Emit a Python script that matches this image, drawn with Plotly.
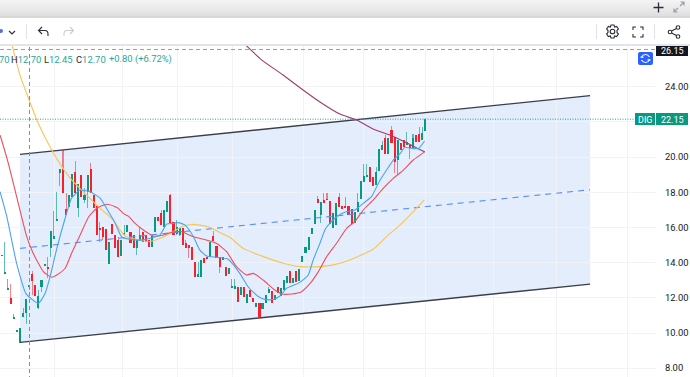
import base64
import plotly.graph_objects as go

W, H = 690, 377
PLOT_R, PLOT_T = 656, 46
X0_PX, BAR_PX = 20, 3.07

first_bar = -6
opens = [14.38,13.40,12.50,12.01,10.85,10.10,
 9.45,10.93,11.16,12.65,13.34,12.73,11.41,12.60,13.85,13.72,
 14.81,15.35,16.39,19.11,19.30,17.03,17.18,17.71,19.17,17.09,
 18.98,17.56,18.03,19.30,17.84,17.22,15.95,16.01,15.89,13.95,
 16.20,15.57,15.28,14.37,15.60,15.75,15.75,15.57,14.81,15.22,
 15.75,15.57,15.28,14.90,15.75,16.57,16.80,16.04,16.89,17.84,
 16.32,15.60,15.57,15.94,15.13,15.00,14.86,14.05,13.16,13.20,
 14.24,14.33,14.33,15.51,14.96,14.33,14.14,13.73,13.33,12.60,
 12.54,12.60,12.16,12.63,11.69,12.44,11.97,11.50,11.69,11.37,
 11.69,12.25,12.39,11.88,12.60,12.10,12.44,12.82,13.54,12.86,
 13.54,12.96,14.02,14.57,14.72,15.63,16.20,17.60,16.71,17.56,
 17.60,17.52,15.95,16.14,17.75,17.22,17.20,17.22,17.03,16.27,
 16.90,17.60,18.60,18.92,19.42,18.88,18.41,19.22,20.40,21.06,
 20.20,21.54,21.16,19.83,20.78,20.97,20.68,20.68,20.50,21.25,
 21.29,20.97,21.50]
highs = [14.45,15.16,13.05,12.77,11.08,10.16,
 10.27,11.40,11.92,12.70,13.55,12.73,12.45,13.02,13.92,14.34,
 15.80,16.95,18.03,19.30,20.40,17.98,17.84,19.04,19.80,18.47,
 18.98,18.22,18.98,19.68,17.84,17.22,16.33,16.01,15.89,15.19,
 16.20,15.57,15.45,15.28,16.13,16.13,15.75,15.57,15.28,16.00,
 15.75,15.57,15.28,15.51,16.57,16.57,17.00,16.99,17.52,17.89,
 16.32,16.42,15.94,15.94,15.28,15.00,14.86,14.05,14.05,14.14,
 14.24,14.33,15.15,15.81,14.96,14.33,14.30,13.73,13.67,13.05,
 13.05,12.60,12.60,12.63,12.22,12.44,11.97,11.69,11.69,11.69,
 12.16,12.60,12.39,12.16,12.60,12.54,13.01,13.24,13.54,13.15,
 13.54,13.62,14.38,14.91,15.47,15.95,16.99,17.79,17.46,17.94,
 17.94,17.52,16.80,17.41,17.94,17.22,17.75,17.22,17.03,16.90,
 17.94,18.66,19.60,19.60,19.42,18.88,19.45,20.46,20.90,21.25,
 21.06,21.75,21.16,20.97,20.78,20.97,21.44,20.68,21.30,21.25,
 21.69,21.70,22.20]
lows = [14.35,13.39,12.45,11.65,10.82,10.08,
 9.42,10.93,10.52,12.45,12.16,12.08,11.35,12.35,13.83,13.11,
 14.34,15.33,16.39,18.36,17.94,16.71,17.18,17.71,17.98,16.58,
 17.75,17.41,17.09,17.98,17.09,15.57,15.19,15.29,14.72,13.92,
 15.60,14.81,14.30,14.37,15.57,15.75,15.09,14.81,14.43,15.22,
 15.19,15.19,14.86,14.90,15.75,16.38,16.13,16.04,16.89,16.23,
 15.57,15.55,15.50,15.00,14.81,14.24,14.14,13.20,13.16,13.20,
 13.96,14.18,14.33,15.24,14.24,13.43,14.14,13.24,13.33,12.60,
 12.54,11.78,12.16,12.03,11.69,12.03,11.78,11.50,10.93,11.37,
 11.69,12.25,11.69,11.88,12.25,12.10,12.44,12.82,12.82,12.86,
 12.88,12.96,14.02,14.57,14.72,15.63,16.20,17.41,16.23,17.41,
 17.56,16.20,15.95,16.14,17.14,17.03,17.14,16.71,16.20,16.27,
 16.90,17.60,18.60,18.92,18.60,18.35,18.41,19.22,20.40,20.20,
 20.20,20.78,19.07,18.98,20.40,20.59,20.68,19.87,20.50,20.87,
 20.87,20.97,21.50]
closes = [14.42,13.46,12.55,11.65,10.90,10.14,
 10.27,11.16,11.92,12.70,12.96,12.11,12.13,13.02,13.90,13.68,
 15.80,15.50,16.50,19.30,17.94,16.71,17.84,19.04,17.98,18.47,
 17.75,17.84,18.98,17.98,17.09,15.57,15.90,15.48,14.72,15.19,
 15.60,14.81,14.30,15.28,15.70,16.13,15.09,14.81,15.28,15.57,
 15.19,15.19,14.86,15.51,16.57,16.38,16.13,16.99,17.52,16.23,
 15.57,16.04,15.94,15.00,14.81,14.81,14.14,13.20,13.33,14.14,
 14.00,14.18,15.15,15.24,14.24,13.73,14.30,13.24,13.67,12.70,
 12.65,11.78,12.60,12.03,12.22,12.03,11.78,11.69,10.93,11.69,
 12.16,12.48,11.69,12.16,12.25,12.54,13.01,13.24,12.82,13.15,
 12.88,13.62,14.38,14.91,15.47,15.95,16.99,17.41,17.46,17.41,
 17.56,16.20,16.80,17.41,17.14,17.03,17.14,16.71,16.20,16.90,
 17.46,18.66,18.92,19.00,18.60,18.35,19.17,20.46,20.68,20.20,
 21.06,20.78,19.74,20.97,20.40,20.59,20.87,20.50,21.06,20.87,
 20.87,21.35,22.15]

blue_bars = [-6.5,-4.3,-1.1,2,6,8.2,9.8,12,14.7,16.8,19.6,22.8,26.1,28.8,31,33.1,35.8,39.1,43.4,45.6,47.8,50,51.6,53.8,56.5,58.6,60.8,64.1,67.8,71.6,74.3,77.6,79.8,82.5,84.7,86.8,90.6,91.7,93.9,95.5,97.7,99.6,103.1,106.4,109.1,111.8,114.5,117.3,119.4,121.6,123.8,125.4,127.6,129.8,131.8]
blue_vals = [18.03,16.61,13.96,12.22,11.69,12.26,13.2,14.81,16.52,17.66,18.13,18.03,17.66,16.9,16.24,15.47,15.32,15.28,15.43,15.57,16.19,16.23,16.27,16.13,15.47,14.71,14.37,14.3,14.19,13.39,12.63,12.07,11.91,11.91,12.1,12.54,12.82,12.95,13.30,14.15,15.1,15.95,16.61,16.9,16.99,17.37,17.75,18.7,19.26,19.83,20.2,20.55,20.49,20.49,20.91]
red_bars = [-6.5,-6,-3.8,-1.1,2.2,4.3,7.6,10.3,12,14.7,16.8,19.6,22.3,25,28.3,31,32,33.6,35.3,37.5,40.2,43.4,46.7,50,52.7,56.5,60.8,64.1,67.3,70.5,73.8,76,79.2,83,85.2,88.5,91.7,94.5,97.2,99.9,103.1,106.4,109.1,111.8,115.1,118.3,121.6,124.9,128.1,131.7]
red_vals = [21.25,20.97,19.64,17.75,15.48,14.53,13.49,13.17,13.3,13.68,14.53,15.57,16.58,17.09,17.32,17.18,17.08,16.8,16.64,16.23,15.85,15.51,15.57,15.75,15.75,15.47,15.28,15.09,14.62,13.77,13.3,13.39,13.01,12.44,12.22,12.22,12.35,12.82,13.49,14.34,15.1,15.95,16.33,16.99,17.56,18.22,18.79,19.26,19.83,20.28]
yellow_bars = [-2.8,0,2.6,5.9,9.8,13.7,16.9,26,30.4,32.6,34.7,38,42.3,45.6,48.9,52.7,56,58.6,61.9,66.8,68.4,72.7,79.3,85.8,91.2,97.7,102.1,107.5,115.1,119.4,123.8,128.1,131.7]
yellow_vals = [26.5,24.66,23.41,21.93,20.57,19.43,18.69,17.1,16.42,15.85,15.47,15.32,15.19,15.38,15.66,16.04,16.17,16.13,16,15.57,15.44,14.81,14.34,13.96,13.77,13.77,13.87,14.15,14.77,15.48,16.14,16.9,17.56]
maroon_bars = [73.3,78.8,85.7,92.2,97.7,104.2,109.7,115,120.5,126,131.9]
maroon_vals = [26.4,25.51,24.66,23.81,23.13,22.44,22.1,21.59,21.25,20.8,20.28]

channel_bars = [0, 185.7]
channel_upper = [20.15, 23.49]
channel_mid = [14.81, 18.14]
channel_lower = [9.47, 12.78]

y_ticks = [8, 10, 12, 14, 16, 18, 20, 22, 24]
y_tick_labels = ["8.00", "10.00", "12.00", "14.00", "16.00", "18.00", "20.00", "", "24.00"]
x_grid_px = [54, 122, 177, 232, 303, 363, 425, 493, 556, 627]

last_price = 22.15
symbol = "DIG"
cursor_price = "26.15"

GREEN, RED = "#089981", "#f7202f"
GREEN_W, RED_W = "rgba(8,153,129,0.62)", "rgba(247,32,47,0.55)"
TEAL = "#26a69a"

n = len(opens)
xs = [first_bar + k for k in range(n)]
up = [c >= o for o, c in zip(opens, closes)]

def px_bar(px):
    return (px - X0_PX) / BAR_PX

fig = go.Figure()
fig.add_trace(go.Bar(x=xs, base=lows, y=[h - l for h, l in zip(highs, lows)], width=0.36,
                     marker=dict(color=[GREEN_W if u else RED_W for u in up], line_width=0)))
body_lo = [min(o, c) for o, c in zip(opens, closes)]
body_h = [max(abs(o - c), 0.05) for o, c in zip(opens, closes)]
fig.add_trace(go.Bar(x=xs, base=body_lo, y=body_h, width=0.68,
                     marker=dict(color=[GREEN if u else RED for u in up], line_width=0)))
fig.add_trace(go.Scatter(x=channel_bars, y=channel_mid, mode="lines",
                         line=dict(color="#5b8ff9", width=1.2, dash="6px,5px")))
fig.add_trace(go.Scatter(x=channel_bars, y=channel_upper, mode="lines", line=dict(color="#3a3f4a", width=1.4)))
fig.add_trace(go.Scatter(x=channel_bars, y=channel_lower, mode="lines", line=dict(color="#3a3f4a", width=1.4)))
for bx, vy, col in [(yellow_bars, yellow_vals, "#f9c455"), (maroon_bars, maroon_vals, "#a33a6b"),
                    (red_bars, red_vals, "#ec4f5f"), (blue_bars, blue_vals, "#4aa3f0")]:
    fig.add_trace(go.Scatter(x=bx, y=vy, mode="lines", line=dict(color=col, width=1.1, shape="spline", smoothing=0.5)))

shapes = []
def rect(x0, y0, x1, y1, color, layer="above"):
    shapes.append(dict(type="rect", xref="paper", yref="paper", x0=x0 / W, x1=x1 / W,
                       y0=1 - y1 / H, y1=1 - y0 / H, fillcolor=color, line_width=0, layer=layer))
def seg(x0, y0, x1, y1, color, dash="solid", width=1, layer="above"):
    shapes.append(dict(type="line", xref="paper", yref="paper", x0=x0 / W, x1=x1 / W,
                       y0=1 - y0 / H, y1=1 - y1 / H, line=dict(color=color, width=width, dash=dash), layer=layer))

shapes.append(dict(type="path", xref="x", yref="y", layer="below", line_width=0,
                   fillcolor="rgba(40,117,232,0.13)",
                   path=f"M {channel_bars[0]} {channel_upper[0]} L {channel_bars[1]} {channel_upper[1]} "
                        f"L {channel_bars[1]} {channel_lower[1]} L {channel_bars[0]} {channel_lower[0]} Z"))
shapes.append(dict(type="line", xref="paper", yref="y", x0=0, x1=635 / W, y0=last_price, y1=last_price,
                   line=dict(color=TEAL, width=1, dash="1px,1.5px"), layer="above"))
seg(29.5, 47, 29.5, 377, "#8a8d94", "4px,3px")
seg(0, 49.5, 656, 49.5, "#9a9da4", "4px,3px")
greys = ["#f3f3f3", "#f0f0f0", "#eeeeee", "#ebebeb", "#e9e9e9", "#e6e6e6", "#e3e3e3", "#dfdfdf", "#d8d8d8"]
for k, g in enumerate(greys):
    rect(0, k * 2, W, k * 2 + 2, g, "below")
rect(0, 18, W, 44, "#ffffff", "below")
rect(0, 44, W, 46, "#e2e4ec", "below")
seg(26.5, 24, 26.5, 39, "#e0e3eb", layer="below")
seg(596.5, 24, 596.5, 39, "#e0e3eb", layer="below")
seg(654.5, 24, 654.5, 39, "#e0e3eb", layer="below")
rect(635, 113, 655, 125, GREEN)
rect(656, 113, 688, 125, GREEN)
rect(656, 46, 688, 56, "#131722")

def svg_img(svg, x, y, w, h):
    src = "data:image/svg+xml;base64," + base64.b64encode(svg.encode()).decode()
    return dict(source=src, xref="paper", yref="paper", x=x / W, y=1 - y / H, sizex=w / W, sizey=h / H,
                xanchor="left", yanchor="top", sizing="stretch", layer="above")

def icon(body, x, y, w, h):
    return svg_img(f'<svg xmlns="http://www.w3.org/2000/svg" width="{w}" height="{h}" viewBox="0 0 {w} {h}">{body}</svg>', x, y, w, h)

DK = 'fill="none" stroke="#2a2e39" stroke-width="1.1"'
images = [
    icon(f'<path d="M2 2 L5 5 L8 2" {DK}/>', 7, 29, 10, 7),
    icon(f'<path d="M5 1 L1.5 4.5 L5 8 M1.5 4.5 H8 Q11 4.5 11 8 V10" {DK}/>', 37, 26, 13, 12),
    icon('<path d="M8 1 L11.5 4.5 L8 8 M11.5 4.5 H5 Q2 4.5 2 8 V10" fill="none" stroke="#c9ccd3" stroke-width="1.1"/>', 62, 26, 13, 12),
    icon(f'<circle cx="7.5" cy="7.5" r="2.3" {DK}/><path d="M6 1 H9 L9.6 3 L11.6 2.4 L13.4 5 L12 6.5 V8.5 L13.4 10 L11.6 12.6 L9.6 12 L9 14 H6 L5.4 12 L3.4 12.6 L1.6 10 L3 8.5 V6.5 L1.6 5 L3.4 2.4 L5.4 3 Z" {DK}/>', 605, 24, 15, 15),
    icon(f'<path d="M1 4 V1 H4 M8 1 H11 V4 M11 8 V11 H8 M4 11 H1 V8" {DK}/>', 632, 26, 12, 12),
    icon(f'<circle cx="3" cy="7" r="1.8" {DK}/><circle cx="11" cy="2.5" r="1.8" {DK}/><circle cx="11" cy="11.5" r="1.8" {DK}/><path d="M4.6 6 L9.4 3.5 M4.6 8 L9.4 10.5" {DK}/>', 667, 25, 14, 14),
    icon('<path d="M5.5 0.5 V10.5 M0.5 5.5 H10.5" fill="none" stroke="#2a2e39" stroke-width="1.3"/>', 653, 2, 11, 11),
    icon('<path d="M7 5 L11 1 M7.5 1 H11 V4.5 M5 7 L1 11 M1 7.5 V11 H4.5" fill="none" stroke="#9aa0aa" stroke-width="1.2"/>', 673, 1, 12, 12),
    icon('<rect width="15" height="13" rx="2" fill="#2962ff"/><path d="M3.5 5 Q5 2.5 7.5 2.5 Q10 2.5 11.5 5 M11.5 8 Q10 10.5 7.5 10.5 Q5 10.5 3.5 8" fill="none" stroke="#ffffff" stroke-width="1.2"/><rect x="2.5" y="4.6" width="3" height="1.2" fill="#fff"/><rect x="9.5" y="7.2" width="3" height="1.2" fill="#fff"/>', 638, 52, 15, 13),
    icon('<circle cx="2" cy="2" r="2" fill="#5b6be0"/>', -1, 29, 4, 4),
]

def label(text, x, y, color="#131722", size=9, anchor="left", **kw):
    return dict(text=text, xref="paper", yref="paper", x=x / W, y=1 - y / H, xanchor=anchor, yanchor="middle",
                showarrow=False, font=dict(color=color, size=size, family="Roboto, sans-serif"), **kw)

D = "color:#2a2e39"
T = f"color:{TEAL}"
annotations = [
    label(f'<span style="{T}">70</span>', -3, 59, size=9.4),
    label(f'<span style="{D}">H</span><span style="{T}">12.70</span>', 9, 59, size=9.4),
    label(f'<span style="{D}">L</span><span style="{T}">12.45</span>', 42, 59, size=9.4),
    label(f'<span style="{D}">C</span><span style="{T}">12.70</span>', 74, 59, size=9.4),
    label(f'<span style="{T}">+0.80 (+6.72%)</span>', 107, 59, size=9.4),
    label(symbol, 645, 119.5, "#ffffff", 9, "center"),
    label(f"{last_price:.2f}", 672, 119.5, "#ffffff", 9, "center"),
    label(cursor_price, 672, 50.5, "#ffffff", 9, "center"),
]

fig.update_layout(
    width=W, height=H, autosize=False, margin=dict(l=0, r=0, t=0, b=0),
    paper_bgcolor="#ffffff", plot_bgcolor="#ffffff", showlegend=False, barmode="overlay", bargap=0,
    xaxis=dict(domain=[0, PLOT_R / W], range=[px_bar(0), px_bar(PLOT_R)], tickmode="array",
               tickvals=[px_bar(p) for p in x_grid_px], ticktext=[""] * len(x_grid_px), showgrid=True,
               gridcolor="#f2f3f6", gridwidth=1, zeroline=False, showline=False, ticks=""),
    yaxis=dict(domain=[0, 1 - PLOT_T / H], range=[7.5, 26.31], side="right", tickmode="array",
               tickvals=y_ticks, ticktext=y_tick_labels, showgrid=True, gridcolor="#f2f3f6", gridwidth=1,
               zeroline=False, showline=False, ticks="outside", ticklen=6, tickcolor="rgba(0,0,0,0)",
               tickfont=dict(color="#131722", size=9.4, family="Roboto, sans-serif")),
    shapes=shapes, images=images, annotations=annotations,
)
fig.write_html("out.html", config=dict(displayModeBar=False),
               post_script="document.body.style.margin='0';document.documentElement.style.overflow='hidden';")
